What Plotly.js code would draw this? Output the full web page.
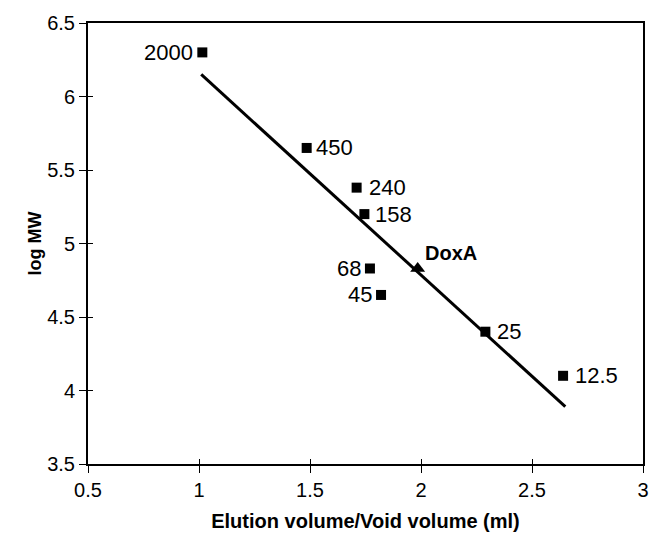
<!DOCTYPE html>
<html>
<head>
<meta charset="utf-8">
<script src="https://cdn.plot.ly/plotly-3.0.1.min.js"></script>
<style>html,body{margin:0;padding:0;background:#fff;}#chart{width:652px;height:542px;}</style>
</head>
<body>
<div id="chart"></div>
<script>
// Standards (squares)
var stdLabels = ["2000", "450", "240", "158", "68", "45", "25", "12.5"];
var stdX = [1.015, 1.485, 1.71, 1.745, 1.77, 1.82, 2.29, 2.64];
var stdY = [6.30, 5.65, 5.38, 5.20, 4.83, 4.65, 4.40, 4.10];
// Unknown (triangle)
var doxLabel = ["DoxA"];
var doxX = [1.985];
var doxY = [4.83];
// Regression line
var lineX = [1.01, 2.65];
var lineY = [6.15, 3.89];
// Axes ticks
var xTicks = [0.5, 1, 1.5, 2, 2.5, 3];
var yTicks = [3.5, 4, 4.5, 5, 5.5, 6, 6.5];

var FONT = "Liberation Sans, Arial, sans-serif";
// label placement: [xanchor, xshift, yshift]
var place = {
  "2000": ["right", -7, 0],
  "450": ["left", 7, 0],
  "240": ["left", 10, 0],
  "158": ["left", 9, 0],
  "68": ["right", -7, 0],
  "45": ["right", -7, 0],
  "25": ["left", 10, 0],
  "12.5": ["left", 10, 0]
};

var annotations = stdLabels.map(function (t, i) {
  var p = place[t];
  return {x: stdX[i], y: stdY[i], xref: "x", yref: "y", text: t, showarrow: false,
    xanchor: p[0], yanchor: "middle", xshift: p[1], yshift: p[2],
    font: {family: FONT, size: 22, color: "#000"}};
});
annotations.push({x: doxX[0], y: doxY[0], xref: "x", yref: "y", text: "<b>" + doxLabel[0] + "</b>",
  showarrow: false, xanchor: "left", yanchor: "middle", xshift: 5, yshift: 15,
  font: {family: FONT, size: 20, color: "#000"}});

var traces = [
  {x: lineX, y: lineY, mode: "lines", line: {color: "#000", width: 3}, hoverinfo: "skip"},
  {x: stdX, y: stdY, mode: "markers", marker: {symbol: "square", size: 10, color: "#000"}},
  {x: doxX, y: doxY, mode: "markers", marker: {symbol: "triangle-up", size: 13, color: "#000"}},
  {x: [null], y: [null], xaxis: "x2", yaxis: "y2", mode: "markers", hoverinfo: "skip"}
];

var axisCommon = {
  showgrid: false, zeroline: false, showline: true, linecolor: "#000", linewidth: 2,
  mirror: true, ticks: "outside", ticklen: 7, tickcolor: "#000", tickwidth: 1,
  tickfont: {family: FONT, size: 20, color: "#000"}
};

var layout = {
  width: 652, height: 542,
  margin: {l: 88, r: 9, t: 23, b: 78},
  paper_bgcolor: "#fff", plot_bgcolor: "#fff",
  showlegend: false,
  xaxis: Object.assign({}, axisCommon, {
    range: [0.5, 3], tickvals: xTicks, ticktext: xTicks.map(String),
    title: {text: "<b>Elution volume/Void volume (ml)</b>", font: {family: FONT, size: 20, color: "#000"}, standoff: 14}
  }),
  yaxis: Object.assign({}, axisCommon, {
    range: [3.5, 6.5], tickvals: yTicks, ticktext: yTicks.map(String),
    title: {text: "<b>log MW</b>", font: {family: FONT, size: 18, color: "#000"}, standoff: 1}
  }),
  xaxis2: {overlaying: "x", range: [0.5, 3], tickvals: xTicks, showticklabels: false, ticks: "inside",
    ticklen: 5, tickcolor: "#000", showgrid: false, zeroline: false, showline: false, side: "bottom", anchor: "y2"},
  yaxis2: {overlaying: "y", range: [3.5, 6.5], tickvals: yTicks, showticklabels: false, ticks: "inside",
    ticklen: 5, tickcolor: "#000", showgrid: false, zeroline: false, showline: false, side: "left", anchor: "x2"},
  annotations: annotations
};

Plotly.newPlot("chart", traces, layout, {displayModeBar: false, staticPlot: true});
</script>
</body>
</html>
